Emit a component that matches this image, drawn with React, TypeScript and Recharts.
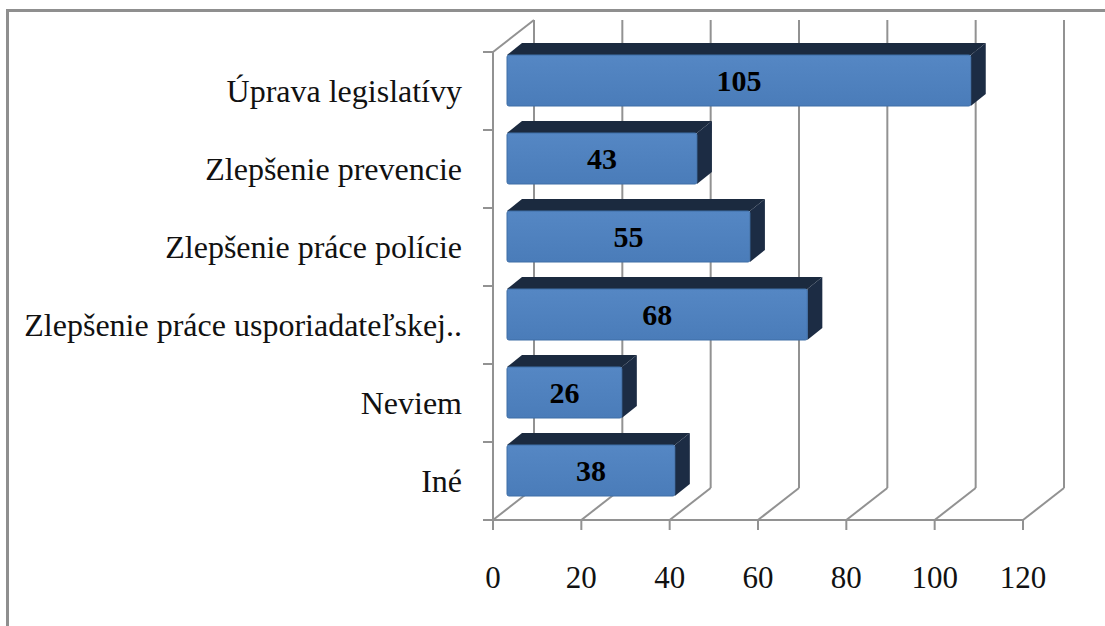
import React from 'react';
import { BarChart, Bar, XAxis, YAxis, CartesianGrid, LabelList } from 'recharts';

const CATEGORIES = [
  'Úprava legislatívy',
  'Zlepšenie prevencie',
  'Zlepšenie práce polície',
  'Zlepšenie práce usporiadateľskej..',
  'Neviem',
  'Iné',
];
const COUNTS = [105, 43, 55, 68, 26, 38];
const X_TICKS = [0, 20, 40, 60, 80, 100, 120];

const data = CATEGORIES.map((name, i) => ({ name, count: COUNTS[i] }));

const W = 1105;
const H = 626;
const M = { top: 52, right: 82, bottom: 46, left: 0 };
const YAXIS_W = 493;
const XAXIS_H = 60;
const PLOT_LEFT = M.left + YAXIS_W;
const PLOT_H = H - M.top - M.bottom - XAXIS_H;
const BAND = PLOT_H / CATEGORIES.length;

// 3D look: depth of the walls and where the bars sit in that depth
const DX = 41, DY = -32;
const BX = 14, BY = -11;
const BDX = 15, BDY = -12;

const GRID = '#929292';
const FONT = '"Liberation Serif", "Times New Roman", serif';

const gridLine = (p: any) => {
  const x = p.x1;
  const yt = Math.min(p.y1, p.y2);
  const yb = Math.max(p.y1, p.y2);
  const first = Math.abs(x - PLOT_LEFT) < 1;
  return (
    <g key={`g-${x}`}>
      <line x1={x} y1={yb} x2={x + DX} y2={yb + DY} stroke={GRID} strokeWidth={2} />
      <line x1={x + DX} y1={yb + DY} x2={x + DX} y2={yt + DY} stroke={GRID} strokeWidth={2} />
      {first && <line x1={x} y1={yt} x2={x + DX} y2={yt + DY} stroke={GRID} strokeWidth={2} />}
    </g>
  );
};

const CatTick = (p: any) => {
  const y = p.payload.coordinate ?? p.y;
  return (
    <g>
      <line x1={PLOT_LEFT - 10} y1={y - BAND / 2} x2={PLOT_LEFT} y2={y - BAND / 2} stroke={GRID} strokeWidth={2} />
      <line x1={PLOT_LEFT - 10} y1={y + BAND / 2} x2={PLOT_LEFT} y2={y + BAND / 2} stroke={GRID} strokeWidth={2} />
      <text x={PLOT_LEFT - 31} y={y} dy="0.355em" textAnchor="end" fontFamily={FONT} fontSize={32} fill="#111">
        {p.payload.value}
      </text>
    </g>
  );
};

const NumTick = (p: any) => (
  <text x={p.x} y={p.y} dy="0.71em" textAnchor="middle" fontFamily={FONT} fontSize={31} fill="#111">
    {p.payload.value}
  </text>
);

const Box3D = (p: any) => {
  const { x, y, width, height } = p;
  const fx = x + BX, fy = y + BY;
  return (
    <g>
      <polygon
        points={`${fx},${fy} ${fx + BDX},${fy + BDY} ${fx + width + BDX},${fy + BDY} ${fx + width},${fy}`}
        fill="#1b2a3f"
      />
      <polygon
        points={`${fx + width},${fy} ${fx + width + BDX},${fy + BDY} ${fx + width + BDX},${fy + height + BDY} ${fx + width},${fy + height}`}
        fill="#1c2c44"
      />
      <rect x={fx} y={fy} width={width} height={height} fill="url(#barFront)" stroke="#3f6ea6" strokeWidth={1} rx={2} />
    </g>
  );
};

const ValueLabel = (p: any) => {
  const { x, y, width, height, value } = p;
  return (
    <text
      x={x + BX + width / 2} y={y + BY + height / 2} dy="0.35em"
      textAnchor="middle" fontFamily={FONT} fontWeight="bold" fontSize={30} fill="#000"
    >
      {value}
    </text>
  );
};

export default function App() {
  return (
    <div style={{ position: 'absolute', left: 0, top: 0, width: W, height: H, overflow: 'hidden', background: '#fff' }}>
      <div style={{
        position: 'absolute', left: 6, top: 9, width: W, height: H,
        borderLeft: '3px solid #8f8f8f', borderTop: '3px solid #8f8f8f',
      }} />
      <div style={{ position: 'absolute', left: 0, top: 0 }}>
        <BarChart width={W} height={H} data={data} layout="vertical" margin={M}>
          <defs>
            <linearGradient id="barFront" x1="0" y1="0" x2="0" y2="1">
              <stop offset="0%" stopColor="#5587c4" />
              <stop offset="100%" stopColor="#4a7cb9" />
            </linearGradient>
          </defs>
          <CartesianGrid horizontal={false} vertical={gridLine} />
          <XAxis
            type="number" domain={[0, 120]} ticks={X_TICKS} height={XAXIS_H}
            axisLine={{ stroke: GRID, strokeWidth: 2 }}
            tickLine={{ stroke: GRID, strokeWidth: 2 }} tickSize={10} tickMargin={36}
            tick={<NumTick />}
          />
          <YAxis
            type="category" dataKey="name" width={YAXIS_W}
            axisLine={{ stroke: GRID, strokeWidth: 2 }} tickLine={false}
            tick={<CatTick />} interval={0}
          />
          <Bar dataKey="count" barSize={51} shape={<Box3D />} isAnimationActive={false}>
            <LabelList dataKey="count" content={<ValueLabel />} />
          </Bar>
        </BarChart>
      </div>
    </div>
  );
}
